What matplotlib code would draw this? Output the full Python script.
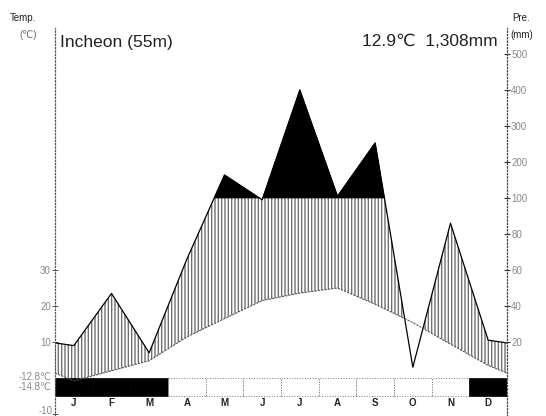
import numpy as np
import matplotlib
matplotlib.use("Agg")
import matplotlib.pyplot as plt
from matplotlib.patches import Rectangle

# ---- data ----
months = ["J", "F", "M", "A", "M", "J", "J", "A", "S", "O", "N", "D"]
temp = [-0.8, 2.0, 4.8, 11.4, 16.5, 21.5, 23.6, 25.0, 20.5, 15.4, 9.4, 3.5]      # deg C
prec = [18, 47, 14, 66, 164, 99, 400, 105, 253, 6, 86, 21]                      # mm
frost_black = [True, True, True, False, False, False, False, False, False, False, False, True]
station = "Incheon (55m)"
summary = "12.9\u2103  1,308mm"
left_ticks = [-10, 10, 20, 30]
right_tick_vals = [20, 40, 60, 80, 100, 200, 300, 400, 500]
extra_labels = ["-12.8\u2103", "-14.8\u2103"]

FAM = ["Liberation Sans", "DejaVu Sans"]
plt.rcParams["font.family"] = FAM


def ptrans(p):
    p = np.asarray(p, float)
    return np.where(p <= 100, p / 2.0, 50 + (p - 100) / 10.0)


W, H = 546, 416
fig = plt.figure(figsize=(W / 100, H / 100), dpi=100)
ax_l, ax_r, ax_t, ax_b = 55, 507, 28, 416
ax = fig.add_axes([ax_l / W, 1 - ax_b / H, (ax_r - ax_l) / W, (ax_b - ax_t) / H])
ymin, ymax = (378 - ax_b) / 3.6, (378 - ax_t) / 3.6
ax.set_xlim(0, 12)
ax.set_ylim(ymin, ymax)

# x positions: month centres plus the two edges (edge = mean of Dec and Jan)
xc = np.arange(12) + 0.5
x = np.concatenate([[0], xc, [12]])
t = np.array(temp, float)
p = ptrans(prec)
t_all = np.concatenate([[(t[0] + t[-1]) / 2], t, [(t[0] + t[-1]) / 2]])
p_all = np.concatenate([[(p[0] + p[-1]) / 2], p, [(p[0] + p[-1]) / 2]])

# humid hatched area (capped at 100 mm level)
hatch_col = ax.fill_between(x, p_all, t_all, where=p_all > t_all, interpolate=True,
                            facecolor="none", edgecolor="#707070", hatch="|||||",
                            linewidth=0)
clip = Rectangle((0, ymin), 12, 50 - ymin, transform=ax.transData)
hatch_col.set_clip_path(clip)

# very humid black area (> 100 mm)
ax.fill_between(x, p_all, 50, where=p_all > 50, interpolate=True,
                facecolor="black", edgecolor="black", linewidth=0.5)

# lines
ax.plot(x, p_all, color="black", lw=0.9)
ax.plot(x, t_all, color="#555555", lw=0.8, ls=(0, (2, 1)))

# month bar
for i, blk in enumerate(frost_black):
    if blk:
        ax.add_patch(Rectangle((i, -5), 1, 5, facecolor="black", edgecolor="black", lw=0.5))
    else:
        ax.add_patch(Rectangle((i, -5), 1, 5, facecolor="white", edgecolor="#777777",
                               lw=0.7, ls=":"))
for i, m in enumerate(months):
    ax.text(i + 0.5, -6.9, m, ha="center", va="center", fontsize=7, fontweight="bold",
            color="#222222")

# axes styling
for s in ["top", "bottom"]:
    ax.spines[s].set_visible(False)
ax.spines["left"].set_linestyle(":")
ax.spines["left"].set_color("#555555")
ax.spines["left"].set_linewidth(0.9)
ax.spines["right"].set_visible(False)
ax.set_xticks([])
ax.set_yticks(left_ticks)
ax.set_yticklabels(["" if v == -10 else str(v) for v in left_ticks])
ax.tick_params(axis="y", direction="inout", length=4, width=0.7, colors="#555555",
               labelsize=7, labelcolor="#888888", pad=1)
ax.text(-0.06, -9.1, str(left_ticks[0]), ha="right", va="center", fontsize=7,
        color="#888888")

ax2 = ax.twinx()
ax2.set_ylim(ymin, ymax)
for s in ["top", "bottom", "left"]:
    ax2.spines[s].set_visible(False)
ax2.spines["right"].set_linestyle(":")
ax2.spines["right"].set_color("#444444")
ax2.spines["right"].set_linewidth(0.9)
ax2.set_yticks(ptrans(right_tick_vals))
ax2.set_yticklabels([str(v) for v in right_tick_vals])
ax2.tick_params(axis="y", direction="inout", length=4, width=0.8, colors="#333333",
                labelsize=7, labelcolor="#888888", pad=1)

# annotations on left
ax.text(-0.08, 0.2, extra_labels[0], ha="right", va="center", fontsize=7, color="#888888")
ax.text(-0.08, -2.6, extra_labels[1], ha="right", va="center", fontsize=7, color="#888888")

# titles
fig.text(60 / W, 1 - 42 / H, station, ha="left", va="center", fontsize=12.5, color="#222222")
fig.text(498 / W, 1 - 42 / H, summary, ha="right", va="center", fontsize=12.5, color="#222222")
fig.text(10 / W, 1 - 18 / H, "Temp.", ha="left", va="center", fontsize=7, color="#222222")
fig.text(19 / W, 1 - 35 / H, "(\u2103)", ha="left", va="center", fontsize=7, color="#666666")
fig.text(512 / W, 1 - 18 / H, "Pre.", ha="left", va="center", fontsize=7, color="#222222")
fig.text(510 / W, 1 - 35 / H, "(mm)", ha="left", va="center", fontsize=7, color="#222222")

fig.savefig("out.png", dpi=100)
